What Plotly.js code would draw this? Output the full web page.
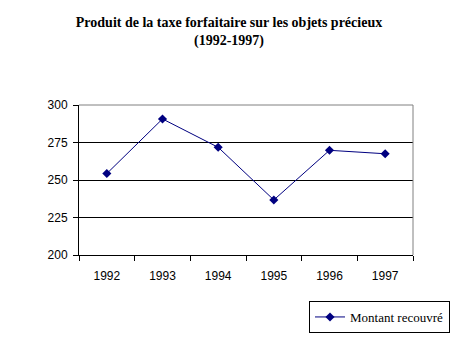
<!DOCTYPE html>
<html>
<head>
<meta charset="utf-8">
<script src="https://cdn.plot.ly/plotly-3.0.1.min.js"></script>
<style>html,body{margin:0;padding:0;background:#fff}#chart{width:464px;height:338px}</style>
</head>
<body>
<div id="chart"></div>
<script>
const years = ["1992", "1993", "1994", "1995", "1996", "1997"];
const montant = [254.3, 290.7, 271.8, 236.7, 269.8, 267.5];
const seriesName = "Montant recouvré";
const yTicks = [200, 225, 250, 275, 300];

const trace = {
  x: years, y: montant, name: seriesName, type: "scatter", mode: "lines+markers",
  line: {color: "#000080", width: 1},
  marker: {symbol: "diamond", size: 7, color: "#000080"},
  showlegend: true
};

const layout = {
  width: 464, height: 338,
  margin: {l: 79, r: 51, t: 105, b: 83, autoexpand: false},
  paper_bgcolor: "#fff", plot_bgcolor: "#fff",
  title: {
    text: "<b>Produit de la taxe forfaitaire sur les objets précieux<br>(1992-1997)</b>",
    font: {family: "Liberation Serif", size: 14, color: "#000"},
    xref: "container", x: 229/464, xanchor: "center",
    yref: "container", y: 1 - 27/338, yanchor: "top"
  },
  xaxis: {
    type: "category", range: [-0.5, 5.5], tickson: "boundaries",
    ticks: "outside", ticklen: 5, tickcolor: "#000", showgrid: false,
    showline: true, linecolor: "#000", linewidth: 1,
    ticklabelstandoff: 10,
    tickfont: {family: "Liberation Sans", size: 12, color: "#000"},
    zeroline: false, fixedrange: true
  },
  yaxis: {
    range: [200, 300], tickvals: yTicks, ticktext: yTicks.map(String),
    ticks: "outside", ticklen: 5, tickcolor: "#000",
    ticklabelstandoff: 3,
    showgrid: true, gridcolor: "#000", gridwidth: 1,
    showline: true, linecolor: "#000", linewidth: 1,
    tickfont: {family: "Liberation Sans", size: 12, color: "#000"},
    zeroline: false, fixedrange: true
  },
  shapes: [
    {type: "line", xref: "paper", yref: "paper", x0: 0, x1: 1, y0: 1, y1: 1, line: {color: "#808080", width: 1}, layer: "above"},
    {type: "line", xref: "paper", yref: "paper", x0: 1, x1: 1, y0: 0, y1: 1, line: {color: "#808080", width: 1}, layer: "above"}
  ],
  legend: {
    x: 230/334, xanchor: "left", y: -46/150, yanchor: "top",
    bordercolor: "#000", borderwidth: 1, bgcolor: "#fff",
    font: {family: "Liberation Serif", size: 13, color: "#000"},
    itemwidth: 30
  }
};

Plotly.newPlot("chart", [trace], layout, {displayModeBar: false, staticPlot: true});
</script>
</body>
</html>
